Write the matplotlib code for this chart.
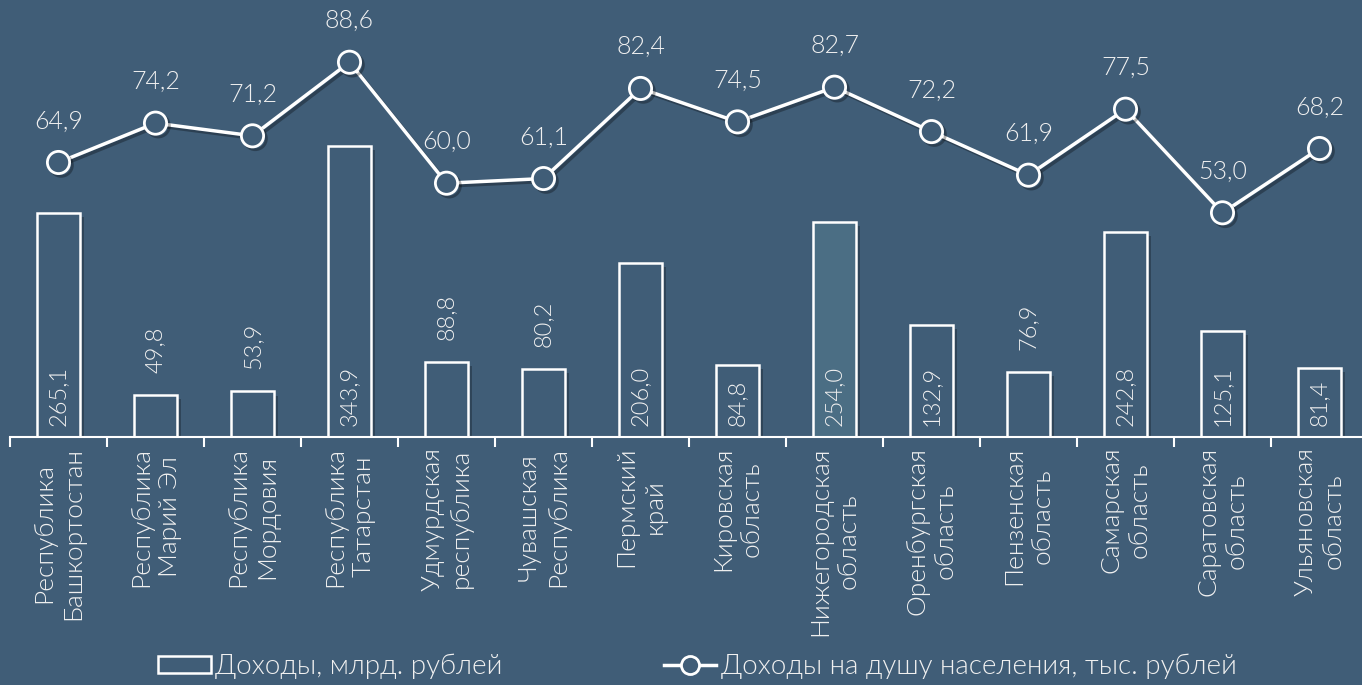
#Доходы бюджетов регионов ПФО: столбцы - млрд руб., линия - на душу населения
import matplotlib.pyplot as plt
import matplotlib.patheffects as pe
from matplotlib.lines import Line2D
from matplotlib.patches import Patch
import numpy as np

regions = [
    "Республика\nБашкортостан", "Республика\nМарий Эл", "Республика\nМордовия",
    "Республика\nТатарстан", "Удмурдская\nреспублика", "Чувашская\nРеспублика",
    "Пермский\nкрай", "Кировская\nобласть", "Нижегородская\nобласть",
    "Оренбургская\nобласть", "Пензенская\nобласть", "Самарская\nобласть",
    "Саратовская\nобласть", "Ульяновская\nобласть",
]
income = [265.1, 49.8, 53.9, 343.9, 88.8, 80.2, 206.0, 84.8, 254.0, 132.9, 76.9, 242.8, 125.1, 81.4]
per_capita = [64.9, 74.2, 71.2, 88.6, 60.0, 61.1, 82.4, 74.5, 82.7, 72.2, 61.9, 77.5, 53.0, 68.2]
label_inside = [True, False, False, True, False, False, True, True, True, True, False, True, True, True]
highlight = "Нижегородская\nобласть"

bg = "#405D77"
hl = "#4B6E84"
txt = "#F0F0F0"

plt.rcParams["font.family"] = ["Lato", "DejaVu Sans"]
plt.rcParams["font.weight"] = 300

def fmt(v):
    return f"{v:.1f}".replace(".", ",")

fig = plt.figure(figsize=(13.62, 6.85), dpi=100, facecolor=bg)
ax = fig.add_axes([10 / 1362, 248 / 685, 1358 / 1362, 423 / 685], facecolor=bg)
x = np.arange(len(regions))

colors = [hl if r == highlight else bg for r in regions]
bars = ax.bar(x, income, width=0.45, color=colors, edgecolor="white", linewidth=1.8, zorder=2)
for b in bars:
    b.set_path_effects([pe.SimplePatchShadow(offset=(3, -3), shadow_rgbFace="black", alpha=0.25), pe.Normal()])

for xi, v, inside in zip(x, income, label_inside):
    if inside:
        ax.annotate(fmt(v), (xi, 0), xytext=(0, 8), textcoords="offset points",
                    rotation=90, ha="center", va="bottom", color=txt, fontsize=17, zorder=3)
    else:
        ax.annotate(fmt(v), (xi, v), xytext=(0, 16), textcoords="offset points",
                    rotation=90, ha="center", va="bottom", color=txt, fontsize=17, zorder=3)

ax.set_xlim(-0.5, len(regions) - 0.5)
ax.set_ylim(0, 500)
for s in ["top", "left", "right"]:
    ax.spines[s].set_visible(False)
ax.spines["bottom"].set_color("white")
ax.spines["bottom"].set_linewidth(1.5)
ax.set_yticks([])
ax.set_xticks(np.arange(-0.5, len(regions), 1.0))
ax.set_xticklabels([])
ax.tick_params(axis="x", which="major", length=7, width=1.5, color="white", direction="out")
ax.set_xticks(x, minor=True)
ax.set_xticklabels(regions, minor=True, rotation=90, color=txt, fontsize=19, linespacing=1.25)
ax.tick_params(axis="x", which="minor", length=0, pad=7)

ax2 = ax.twinx()
ax2.set_ylim(0, 100)
ax2.set_yticks([])
for s in ax2.spines.values():
    s.set_visible(False)
ax2.plot(x, per_capita, color="white", linewidth=2.5, marker="o", markersize=16,
         markerfacecolor=bg, markeredgecolor="white", markeredgewidth=2, zorder=4,
         path_effects=[pe.SimpleLineShadow(offset=(2, -2), alpha=0.3), pe.Normal()])
for xi, v in zip(x, per_capita):
    ax2.annotate(fmt(v), (xi, v), xytext=(0, 21), textcoords="offset points",
                 ha="center", va="bottom", color=txt, fontsize=18)

handles = [
    Patch(facecolor=bg, edgecolor="white", linewidth=1.8),
    Line2D([], [], color="white", linewidth=2.5, marker="o", markersize=13,
           markerfacecolor=bg, markeredgecolor="white", markeredgewidth=2),
]
leg = fig.legend(handles, ["Доходы, млрд. рублей", "Доходы на душу населения, тыс. рублей"],
                 loc="lower center", bbox_to_anchor=(0.512, -0.028), ncol=2, frameon=False,
                 fontsize=20, labelcolor=txt, handlelength=1.9, handleheight=0.6,
                 handletextpad=0.15, columnspacing=5.8)

plt.savefig("out.png", dpi=100, facecolor=bg)
